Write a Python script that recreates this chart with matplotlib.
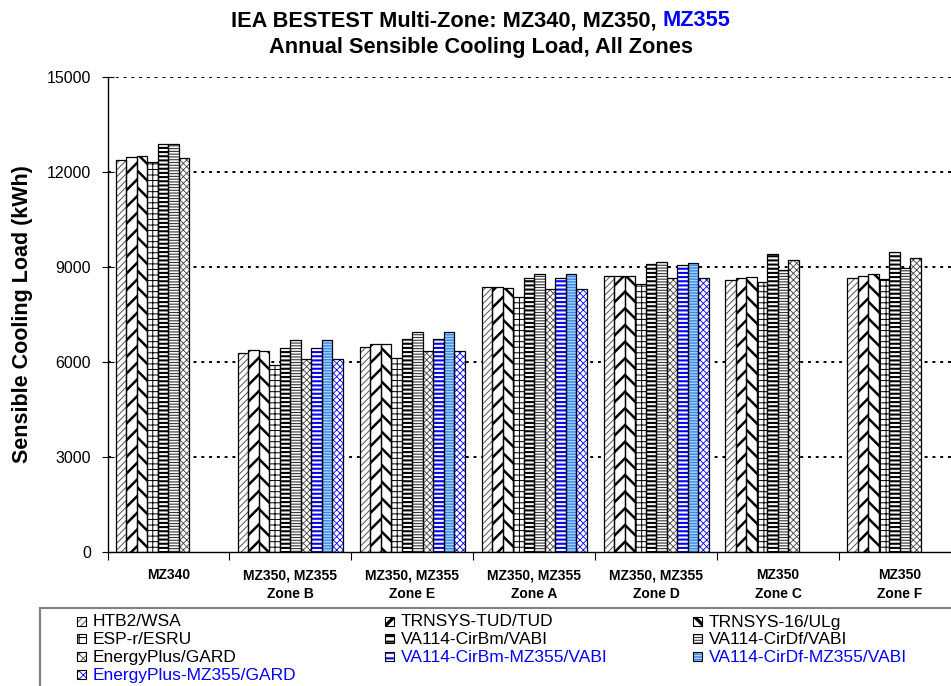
import numpy as np
import matplotlib
matplotlib.use('Agg')
import matplotlib.pyplot as plt
from matplotlib.patches import Rectangle

plt.rcParams['font.family'] = ['Liberation Sans', 'DejaVu Sans']

# ---------------- data ----------------
groups = ["MZ340", "MZ350, MZ355\nZone B", "MZ350, MZ355\nZone E",
          "MZ350, MZ355\nZone A", "MZ350, MZ355\nZone D",
          "MZ350\nZone C", "MZ350\nZone F"]

nan = np.nan
htb2       = [12360, 6280, 6460, 8350, 8715, 8570, 8640]
trnsys_tud = [12475, 6355, 6570, 8350, 8715, 8640, 8715]
trnsys_16  = [12505, 6335, 6550, 8315, 8715, 8675, 8760]
espr       = [12295, 5885, 6105, 8035, 8445, 8515, 8600]
cirbm      = [12865, 6425, 6705, 8640, 9075, 9390, 9465]
cirdf      = [12860, 6675, 6930, 8760, 9140, 8905, 8965]
eplus      = [12430, 6075, 6330, 8285, 8635, 9210, 9285]
cirbm_355  = [nan, 6425, 6705, 8640, 9045, nan, nan]
cirdf_355  = [nan, 6675, 6930, 8760, 9105, nan, nan]
eplus_355  = [nan, 6075, 6330, 8285, 8635, nan, nan]

series_names = ["HTB2/WSA", "TRNSYS-TUD/TUD", "TRNSYS-16/ULg", "ESP-r/ESRU",
                "VA114-CirBm/VABI", "VA114-CirDf/VABI", "EnergyPlus/GARD",
                "VA114-CirBm-MZ355/VABI", "VA114-CirDf-MZ355/VABI",
                "EnergyPlus-MZ355/GARD"]
series_values = [htb2, trnsys_tud, trnsys_16, espr, cirbm, cirdf, eplus,
                 cirbm_355, cirdf_355, eplus_355]
label_colors = ['black'] * 7 + ['#0000FF'] * 3
y_ticks = [0, 3000, 6000, 9000, 12000, 15000]

styles = [
    dict(face='white', hatch='/////', hc='#555555', hlw=0.7, leg_hatch='/////', leg_lw=0.7),
    dict(face='white', hatch='//', hc='black', hlw=1.8, leg_hatch='///', leg_lw=2.4),
    dict(face='white', hatch='\\\\', hc='black', hlw=1.8, leg_hatch='\\\\\\', leg_lw=2.4),
    dict(face='white', hatch='+++', hc='black', hlw=0.7, leg_hatch='++', leg_lw=0.8),
    dict(face='white', hatch='----', hc='black', hlw=1.5, leg_hatch='---', leg_lw=1.5),
    dict(face='white', hatch='------', hc='#333333', hlw=0.8, leg_hatch='------', leg_lw=0.8),
    dict(face='white', hatch='xxxxx', hc='#444444', hlw=0.6, leg_hatch='xxxx', leg_lw=0.6),
    dict(face='white', hatch='----', hc='#0000FF', hlw=1.5, leg_hatch='---', leg_lw=1.5),
    dict(face='#a8d4ff', hatch='------', hc='#3a86e8', hlw=1.0, leg_hatch='------', leg_lw=1.0),
    dict(face='white', hatch='xxxxx', hc='#0000FF', hlw=0.6, leg_hatch='xxxx', leg_lw=0.6),
]

W, H = 951, 686
fig = plt.figure(figsize=(W / 100, H / 100), dpi=100)
ax = fig.add_axes([107.5 / W, 1 - 551.7 / H, 853.3 / W, (551.7 - 76.7) / H])
ax.set_xlim(0, len(groups))
ax.set_ylim(0, 15000)

gap = 0.0693
w = 0.0861
for s, (vals, st) in enumerate(zip(series_values, styles)):
    v = np.array(vals, dtype=float)
    xs = np.arange(len(groups)) + gap + (s + 0.5) * w
    m = ~np.isnan(v)
    bars = ax.bar(xs[m], v[m], width=w, color=st['face'], edgecolor=st['hc'],
                  hatch=st['hatch'], linewidth=0, zorder=2)
    for b in bars:
        if hasattr(b, 'set_hatch_linewidth'):
            b.set_hatch_linewidth(st['hlw'])
    ax.bar(xs[m], v[m], width=w, fill=False, edgecolor='black',
           linewidth=0.9, zorder=3)

# y axis
ax.set_yticks(y_ticks)
ax.tick_params(axis='y', direction='inout', length=8, width=0.8,
               labelsize=11.5, pad=8)
for yv in y_ticks[1:]:
    ax.axhline(yv, color='black', linewidth=1.4, linestyle=(0, (1.5, 2.5)),
               zorder=1)
ax.set_ylabel("Sensible Cooling Load (kWh)", fontsize=15.5, fontweight='bold',
              labelpad=10)

# x axis
ax.set_xticks(np.arange(len(groups)) + 0.5)
ax.set_xticklabels(groups, fontsize=10, fontweight='bold', linespacing=1.45)
ax.set_xticks(np.arange(0, len(groups) + 1), minor=True)
ax.tick_params(axis='x', which='major', length=0, pad=12)
ax.tick_params(axis='x', which='minor', length=6, width=0.8, direction='out')
for sp in ['top', 'right']:
    ax.spines[sp].set_visible(False)
for sp in ['left', 'bottom']:
    ax.spines[sp].set_linewidth(1.0)
    ax.spines[sp].set_zorder(4)

# title (two colours on first line)
tfs = 15.7
t1 = fig.text(0, 1 - 26.0 / H, "IEA BESTEST Multi-Zone: MZ340, MZ350,",
              fontsize=tfs, fontweight='bold', ha='left', va='baseline')
t2 = fig.text(0, 1 - 26.0 / H, "MZ355", fontsize=tfs, fontweight='bold',
              ha='left', va='baseline', color='#0000FF')
fig.text(481 / W, 1 - 53.5 / H, "Annual Sensible Cooling Load, All Zones",
         fontsize=tfs, fontweight='bold', ha='center', va='baseline')
fig.canvas.draw()
r = fig.canvas.get_renderer()
w1 = t1.get_window_extent(r).width
w2 = t2.get_window_extent(r).width
sp = tfs * 0.278 / 0.72
total = w1 + sp + w2
x0 = 481 - total / 2
t1.set_x(x0 / W)
t2.set_x((x0 + w1 + sp) / W)

# legend box
fig.patches.append(Rectangle((40 / W, -0.1), 2.0, 1 - 608.3 / H + 0.1,
                             transform=fig.transFigure, fill=False,
                             edgecolor='#808080', linewidth=1.5, clip_on=False))
order_rows = [[0, 1, 2], [3, 4, 5], [6, 7, 8], [9]]
col_x = [77, 385, 693]
for ri, row in enumerate(order_rows):
    base = 626.5 + 17.8 * ri
    for ci, idx in enumerate(row):
        st = styles[idx]
        ix = col_x[ci]
        p = Rectangle((ix / W, 1 - (base - 1) / H), 9 / W, 9 / H,
                      transform=fig.transFigure, facecolor=st['face'],
                      edgecolor=st['hc'], hatch=st['leg_hatch'], linewidth=0)
        if hasattr(p, 'set_hatch_linewidth'):
            p.set_hatch_linewidth(st['leg_lw'])
        fig.patches.append(p)
        fig.patches.append(Rectangle((ix / W, 1 - (base - 1) / H), 9 / W, 9 / H,
                                     transform=fig.transFigure, fill=False,
                                     edgecolor='black', linewidth=0.8))
        fig.text((ix + 16) / W, 1 - base / H, series_names[idx], fontsize=12.5,
                 color=label_colors[idx], ha='left', va='baseline')

fig.savefig('out.png', dpi=100)
